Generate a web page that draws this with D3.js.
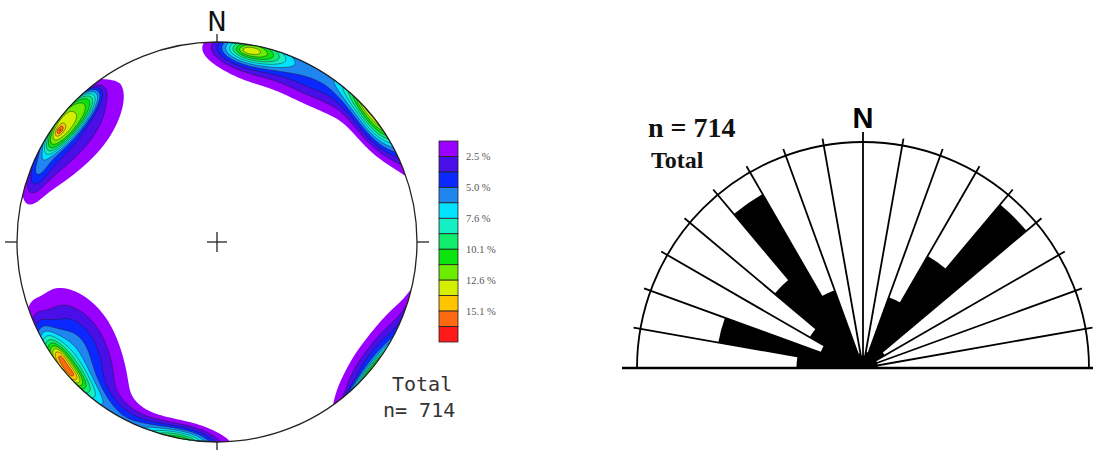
<!DOCTYPE html>
<html>
<head>
<meta charset="utf-8">
<script src="https://cdn.jsdelivr.net/npm/d3@7"></script>
<style>
  html, body { margin: 0; padding: 0; background: #fff; }
  svg { display: block; }
</style>
</head>
<body>
<svg id="chart" width="1093" height="450"></svg>
<script>
// ---------------- Pole concentrations (lower hemisphere, equal-area net) ----------------
// Each concentration: mean trend / plunge (deg), peak density (% per 1% area),
// angular spread (deg) toward lower / higher trend, toward the horizon / the vertical,
// and a flatness exponent (1 = gaussian, >1 = flatter top, steeper flanks).
const clusterTrend    = [310, 305.5, 306, 310, 292, 128,   10, 14, 9,   33,   231, 234, 227.5, 232, 238, 210, 55];
const clusterPlunge   = [4.5, 4,     3,   10,  4,   2.5,   3,  4,  3.5, 5,    1,   3.5, 2,     6,   20,  3,   6];
const clusterPeak     = [7.5, 3.2,   3.8, 2.2, 2.5, 1.5,   9,  4,  1.2, 2.8,  9,   2.2, 2.2,   5.5, 1.8, 1.5, 1.8];
const spreadTrendLow  = [10,  1.3,   13,  17,  6,   8,     6,  10, 2,   9,    8,   2.5, 2.5,   13,  12,  12,  6];
const spreadTrendHigh = [10,  1.3,   10,  16,  6,   8,     7,  14, 2,   12,   8,   2.5, 2.5,   11,  12,  10,  6];
const spreadHorizon   = [5.5, 1.2,   10,  9,   3,   3,     6,  6,  1.5, 5,    5.5, 2,   2,     6,   8,   3,   4];
const spreadVertical  = [6.5, 1.2,   9,   15,  4,   4,     5,  10, 1.5, 9,    5,   2,   2,     12,  11,  5,   5];
const flatness        = [2.5, 1,     1,   1.5, 1,   1,     1,  1,  1,   1,    1,   1,   1,     1,   1,   1,   1];

// Contour levels (%) and their fills
const contourLevels = [1.26, 2.52, 3.78, 5.04, 6.30, 7.56, 8.82, 10.08, 11.34, 12.60, 13.86, 15.12, 16.38];
const levelColors = ["#9a00ff", "#4a0ee8", "#0a28ff", "#1f86f0", "#00e2ff", "#14f0c4",
                     "#10ec6c", "#0ae40e", "#6cec00", "#d4f000", "#ffc600", "#ff6a10", "#ff1a1a"];
const legendLabels = ["2.5 %", "5.0 %", "7.6 %", "10.1 %", "12.6 %", "15.1 %"];
const legendLabelAt = [1, 3, 5, 7, 9, 11];

// ---------------- Rose diagram of strikes (10 degree bins) ----------------
const roseBinStart = [270, 280, 290, 300, 310, 320, 330, 340, 350, 0, 10, 20, 30, 40, 50, 60, 70, 80];
const rosePercent  = [5.3, 11.7, 3.6, 4.9, 9.2, 16.0, 6.6, 1.2, 1.0, 1.0, 1.3, 6.0, 10.3, 17.0, 2.0, 1.2, 1.2, 1.2];
const roseMaxPercent = 18;
const sampleCount = 714;

const svg = d3.select("#chart");
const rad = Math.PI / 180;

// ================= Stereonet =================
const net = { cx: 217, cy: 242, R: 200 };

function unitVector(trend, plunge) {
  const t = trend * rad, p = plunge * rad;
  return [Math.cos(p) * Math.sin(t), Math.cos(p) * Math.cos(t), Math.sin(p)]; // east, north, down
}
const dot = (a, b) => a[0] * b[0] + a[1] * b[1] + a[2] * b[2];

const clusters = clusterTrend.map((T, i) => {
  const t = T * rad, p = clusterPlunge[i] * rad;
  return {
    m: unitVector(T, clusterPlunge[i]),
    et: [Math.cos(t), -Math.sin(t), 0],
    ep: [-Math.sin(p) * Math.sin(t), -Math.sin(p) * Math.cos(t), Math.cos(p)],
    peak: clusterPeak[i],
    sLow: spreadTrendLow[i], sHigh: spreadTrendHigh[i],
    sHor: spreadHorizon[i], sVer: spreadVertical[i],
    k: flatness[i]
  };
});

function density(v) {
  let d = 0;
  for (const c of clusters) {
    let cm = dot(v, c.m), s = 1;
    if (cm < 0) { cm = -cm; s = -1; }           // axial data: use the nearer end of the pole
    const a = Math.atan2(s * dot(v, c.et), cm) / rad;
    const b = Math.atan2(s * dot(v, c.ep), cm) / rad;
    const sa = a < 0 ? c.sLow : c.sHigh;
    const sb = b < 0 ? c.sHor : c.sVer;
    const q = (a / sa) ** 2 + (b / sb) ** 2;
    d += c.peak * Math.exp(-0.5 * Math.pow(q, c.k));
  }
  return d;
}

// density grid over the net (values beyond the primitive take the value at the rim)
const step = 2, half = 104, n = 2 * half;
const gx0 = net.cx - half * step, gy0 = net.cy - half * step;
const grid = new Float64Array(n * n);
for (let j = 0; j < n; j++) {
  for (let i = 0; i < n; i++) {
    const dx = gx0 + (i + 0.5) * step - net.cx;
    const dn = net.cy - (gy0 + (j + 0.5) * step);
    const rr = Math.hypot(dx, dn) || 1e-9;
    const rho = Math.min(1, rr / net.R);
    const theta = 2 * Math.asin(rho / Math.SQRT2);   // angle from the vertical (down)
    const h = Math.sin(theta);
    grid[j * n + i] = density([h * dx / rr, h * dn / rr, Math.cos(theta)]);
  }
}

const contours = d3.contours().size([n, n]).smooth(true).thresholds(contourLevels)(grid);
const gridToPx = d3.geoPath(d3.geoIdentity().scale(step).translate([gx0, gy0]));
const fill = d3.scaleOrdinal(contourLevels, levelColors);

svg.append("clipPath").attr("id", "primitive")
  .append("circle").attr("cx", net.cx).attr("cy", net.cy).attr("r", net.R);

const netG = svg.append("g");
netG.append("g").attr("clip-path", "url(#primitive)")
  .selectAll("path").data(contours).join("path")
  .attr("d", gridToPx)
  .attr("fill", d => fill(d.value))
  .attr("stroke", (d, i) => i === 0 ? "none" : "#1a1a2a")
  .attr("stroke-opacity", 0.75)
  .attr("stroke-width", 0.6);

// primitive circle, cardinal ticks and centre cross
netG.append("circle").attr("cx", net.cx).attr("cy", net.cy).attr("r", net.R)
  .attr("fill", "none").attr("stroke", "#222").attr("stroke-width", 1.3);
const tickLen = 12;
const ticks = [
  [net.cx, net.cy - net.R - 8, net.cx, net.cy - net.R],
  [net.cx, net.cy + net.R, net.cx, net.cy + net.R + 8],
  [net.cx - net.R - tickLen, net.cy, net.cx - net.R, net.cy],
  [net.cx + net.R, net.cy, net.cx + net.R + tickLen, net.cy],
  [net.cx - 10, net.cy, net.cx + 10, net.cy],
  [net.cx, net.cy - 10, net.cx, net.cy + 10]
];
netG.selectAll("line.tick").data(ticks).join("line").attr("class", "tick")
  .attr("x1", d => d[0]).attr("y1", d => d[1]).attr("x2", d => d[2]).attr("y2", d => d[3])
  .attr("stroke", "#222").attr("stroke-width", 1.3);

netG.append("text").attr("x", net.cx).attr("y", 31).attr("text-anchor", "middle")
  .attr("font-family", "DejaVu Sans, sans-serif").attr("font-size", 26).attr("fill", "#111")
  .text("N");
netG.append("text").attr("x", 392).attr("y", 391)
  .attr("font-family", "DejaVu Sans Mono, monospace").attr("font-size", 20).attr("fill", "#333")
  .text("Total");
netG.append("text").attr("x", 383).attr("y", 417)
  .attr("font-family", "DejaVu Sans Mono, monospace").attr("font-size", 20).attr("fill", "#333")
  .text("n= " + sampleCount);

// legend
const legendY = d3.scaleLinear([0, contourLevels.length], [141, 342]);
const legend = svg.append("g");
legend.selectAll("rect").data(levelColors).join("rect")
  .attr("x", 439).attr("width", 19)
  .attr("y", (d, i) => legendY(i)).attr("height", legendY(1) - legendY(0))
  .attr("fill", d => d).attr("stroke", "#222").attr("stroke-width", 0.8);
legend.selectAll("text").data(legendLabels).join("text")
  .attr("x", 466).attr("y", (d, i) => legendY(legendLabelAt[i]) + 3.5)
  .attr("font-family", "Liberation Serif, serif").attr("font-size", 10.5).attr("fill", "#555")
  .text(d => d);

// ================= Rose diagram =================
const rose = { cx: 863, cy: 368, R: 226 };
const rScale = d3.scaleLinear([0, roseMaxPercent], [0, rose.R]);
const roseG = svg.append("g").attr("transform", `translate(${rose.cx},${rose.cy})`);
const toAngle = b => (b >= 180 ? b - 360 : b) * rad;
const petal = d3.arc().innerRadius(0)
  .startAngle(d => toAngle(d.start)).endAngle(d => toAngle(d.start) + 10 * rad)
  .outerRadius(d => rScale(d.pct));
roseG.selectAll("path.petal")
  .data(roseBinStart.map((s, i) => ({ start: s, pct: rosePercent[i] })))
  .join("path").attr("class", "petal").attr("d", petal).attr("fill", "#000");

const rays = d3.range(-80, 90, 10);
roseG.selectAll("line.ray").data(rays).join("line").attr("class", "ray")
  .attr("x1", 0).attr("y1", 0)
  .attr("x2", a => Math.sin(a * rad) * (rose.R + (a === 0 ? 10 : 7)))
  .attr("y2", a => -Math.cos(a * rad) * (rose.R + (a === 0 ? 10 : 7)))
  .attr("stroke", "#000").attr("stroke-width", 1.8);

const outline = d3.path();
outline.moveTo(-rose.R, 0);
outline.arc(0, 0, rose.R, Math.PI, 2 * Math.PI);
roseG.append("path").attr("d", outline.toString()).attr("fill", "none")
  .attr("stroke", "#000").attr("stroke-width", 1.8);
roseG.append("line").attr("x1", 622 - rose.cx).attr("x2", 1093 - rose.cx)
  .attr("y1", 0).attr("y2", 0).attr("stroke", "#000").attr("stroke-width", 2.5);

svg.append("text").attr("x", rose.cx).attr("y", 128).attr("text-anchor", "middle")
  .attr("font-family", "Liberation Sans, Arial, sans-serif").attr("font-weight", "bold")
  .attr("font-size", 29).attr("fill", "#000").text("N");
svg.append("text").attr("x", 648).attr("y", 137)
  .attr("font-family", "Liberation Serif, serif").attr("font-weight", "bold")
  .attr("font-size", 28).attr("fill", "#111").text("n = " + sampleCount);
svg.append("text").attr("x", 651).attr("y", 168)
  .attr("font-family", "Liberation Serif, serif").attr("font-weight", "bold")
  .attr("font-size", 24).attr("fill", "#111").text("Total");
</script>
</body>
</html>
